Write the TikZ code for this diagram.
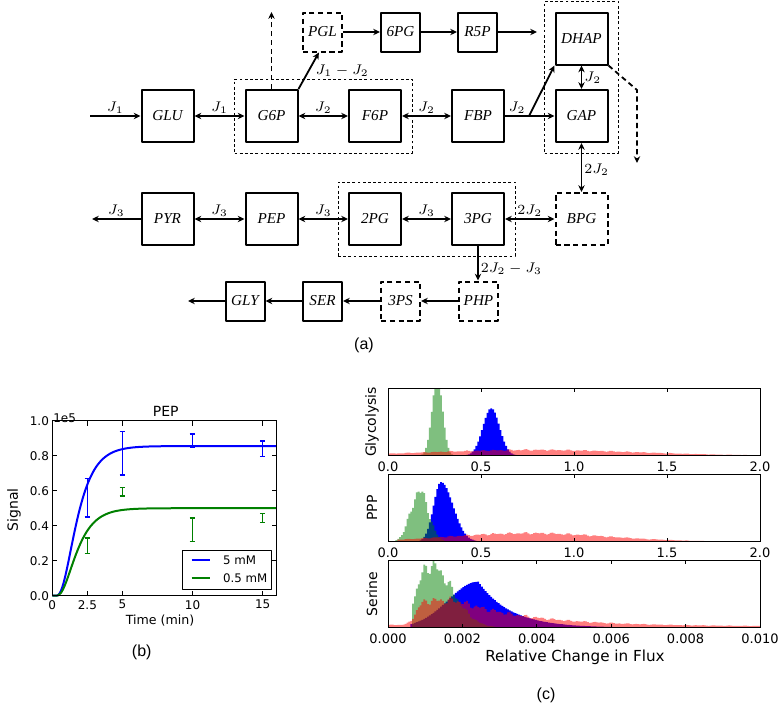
\documentclass[tikz,border=0pt]{standalone}
\usepackage{fontspec}
\newfontfamily\plotfont{DejaVu Sans}
\newfontfamily\tagfont{Liberation Sans}
\newfontfamily\boxfont{Liberation Serif}
\usetikzlibrary{arrows.meta,fit}
\begin{document}
\begin{tikzpicture}[x=0.5pt,y=-0.5pt,line join=round,
    declare function={gs(\t,\m,\s)=exp(-0.5*((\t-\m)/\s)*((\t-\m)/\s));
                      rise(\t)=(1-exp(-1.05*(\t-0.25)))^3;
                      jit(\t,\f)=1+0.08*sin(\t*\f)+0.07*sin(\t*\f*0.577);},
    met/.style={draw,line width=1pt,minimum size=26pt,inner sep=0pt,font=\boxfont\itshape\fontsize{7.6}{9}\selectfont},
    metsm/.style={met,minimum size=19.5pt},
    dbox/.style={dash pattern=on 2.6pt off 1.8pt},
    grp/.style={draw,line width=0.45pt,dash pattern=on 1.4pt off 1.2pt,inner sep=5pt},
    flow/.style={line width=0.9pt,-{Stealth[length=3.4pt,width=3.2pt]}},
    rev/.style={line width=0.9pt,{Stealth[length=3.4pt,width=3.2pt]}-{Stealth[length=3.4pt,width=3.2pt]}},
    lbl/.style={font=\fontsize{7.3}{9}\selectfont,inner sep=1pt},
    frm/.style={line width=0.5pt},
    ticklbl/.style={font=\plotfont\fontsize{6}{7}\selectfont,inner sep=1pt},
    hticklbl/.style={font=\plotfont\fontsize{6.5}{7}\selectfont,inner sep=1pt},
    hist/.style={const plot},
    tag/.style={font=\tagfont\fontsize{8}{9}\selectfont}]
    \useasboundingbox (0,0) rectangle (783,707);

    \foreach \n/\px/\py in {GLU/167.5/116,G6P/271.5/116,F6P/375/116,FBP/478/116,GAP/581.5/116,
                             DHAP/581.5/38.5,PYR/167.5/219,PEP/271.5/219,2PG/375/219,3PG/478/219} {
        \node[met] (\n) at (\px,\py) {\n};
    }
    \node[met,dbox] (BPG) at (581.5,219) {BPG};
    \foreach \n/\px/\py in {6PG/400.5/32,R5P/477.5/32,GLY/245/301,SER/322.5/301} {
        \node[metsm] (\n) at (\px,\py) {\n};
    }
    \foreach \n/\px/\py in {PGL/322.5/32,3PS/400.5/301,PHP/478.5/301} {
        \node[metsm,dbox] (\n) at (\px,\py) {\n};
    }

    \node[grp,fit=(G6P)(F6P)] (upper) {};
    \node[grp,fit=(DHAP)(GAP)] (triose) {};
    \node[grp,fit=(2PG)(3PG)] (lower) {};

    \coordinate (glcin) at (90,116);
    \coordinate (pyrout) at (92,219);
    \coordinate (glyout) at (188,301);
    \coordinate (r5pout) at (537,32);
    \coordinate (split) at (529,116);
    \coordinate (ppout) at (271.5,12);
    \coordinate (bend) at (637,90);
    \coordinate (dhapout) at (637,163);

    \draw[flow] (glcin) -- node[lbl,above] {$J_1$} (GLU);
    \draw[rev] (GLU) -- node[lbl,above] {$J_1$} (G6P);
    \draw[rev] (G6P) -- node[lbl,above] {$J_2$} (F6P);
    \draw[rev] (F6P) -- node[lbl,above] {$J_2$} (FBP);
    \draw[flow] (FBP) -- node[lbl,above] {$J_2$} (split) -- (GAP);
    \draw[flow] (split) -- (DHAP.south west);
    \draw[rev] (DHAP) -- node[lbl,right] {$J_2$} (GAP);
    \draw[flow,dbox] (DHAP.south east) -- (bend) -- (dhapout);
    \draw[flow,dbox] (G6P.north) -- (ppout);
    \draw[flow] (G6P.north east) -- node[lbl,right,xshift=2pt] {$J_1-J_2$} (PGL.-100);
    \draw[flow] (PGL) -- (6PG);
    \draw[flow] (6PG) -- (R5P);
    \draw[flow] (R5P) -- (r5pout);
    \draw[rev] (GAP) -- node[lbl,right,pos=0.55] {$2J_2$} (BPG);
    \draw[rev] (3PG) -- node[lbl,above] {$2J_2$} (BPG);
    \draw[rev] (2PG) -- node[lbl,above] {$J_3$} (3PG);
    \draw[rev] (PEP) -- node[lbl,above] {$J_3$} (2PG);
    \draw[rev] (PYR) -- node[lbl,above] {$J_3$} (PEP);
    \draw[flow] (PYR) -- node[lbl,above] {$J_3$} (pyrout);
    \draw[flow] (3PG.south) -- node[lbl,right,pos=0.65] {$2J_2-J_3$} (3PG.south |- PHP.north);
    \draw[flow] (PHP) -- (3PS);
    \draw[flow] (3PS) -- (SER);
    \draw[flow] (SER) -- (GLY);
    \draw[flow] (GLY) -- (glyout);
    \node[tag] (taga) at (364,345) {(a)};

    \begin{scope}[shift={(52.3,595.7)},x=7.0125pt,y=87.5pt]
        \draw[line width=1pt,blue] (0,0) -- plot[domain=0.25:16,samples=90,smooth] (\x,{0.855*rise(\x)});
        \draw[line width=1pt,green!50!black] (0,0) -- plot[domain=0.25:16,samples=90,smooth] (\x,{0.5*rise(\x)});
        \foreach \t/\lo/\hi in {2.5/0.45/0.67,5/0.69/0.94,10/0.85/0.925,15/0.795/0.885} {
            \draw[line width=0.7pt,blue] (\t,\lo) -- (\t,\hi) (\t-0.2,\lo) -- (\t+0.2,\lo) (\t-0.2,\hi) -- (\t+0.2,\hi);
        }
        \foreach \t/\lo/\hi in {2.5/0.24/0.33,5/0.57/0.62,10/0.31/0.445,15/0.42/0.47} {
            \draw[line width=0.7pt,green!50!black] (\t,\lo) -- (\t,\hi) (\t-0.2,\lo) -- (\t+0.2,\lo) (\t-0.2,\hi) -- (\t+0.2,\hi);
        }
        \draw[frm] (0,0) rectangle (16,1);
        \foreach \t in {0,2.5,5,10,15} {
            \draw[frm] (\t,0) -- ++(0,2.5pt) (\t,1) -- ++(0,-2.5pt);
            \node[ticklbl,anchor=north,yshift=-1pt] at (\t,0) {\t};
        }
        \foreach \v in {0.0,0.2,0.4,0.6,0.8,1.0} {
            \draw[frm] (0,\v) -- ++(2.5pt,0) (16,\v) -- ++(-2.5pt,0);
            \node[ticklbl,anchor=east,xshift=-0.5pt] at (0,\v) {\v};
        }
        \node[ticklbl,anchor=west,inner sep=0.3pt,yshift=1.2pt] (offset) at (0,1) {1e5};
        \draw[frm,fill=white] (9.3,0.038) rectangle (15.64,0.261);
        \draw[line width=1pt,blue] (9.94,0.204) -- (11.25,0.204);
        \draw[line width=1pt,green!50!black] (9.94,0.099) -- (11.25,0.099);
        \node[font=\plotfont\fontsize{5.9}{7}\selectfont,anchor=west,inner sep=0pt] (leg1) at (12.15,0.204) {5 mM};
        \node[font=\plotfont\fontsize{5.9}{7}\selectfont,anchor=west,inner sep=0pt] (leg2) at (12.15,0.099) {0.5 mM};
    \end{scope}
    \node[font=\plotfont\fontsize{7}{8}\selectfont] (peptitle) at (165.7,411.7) {PEP};
    \node[font=\plotfont\fontsize{6.3}{7}\selectfont] (tlab) at (160,620.7) {Time (min)};
    \node[font=\plotfont\fontsize{7}{8}\selectfont,rotate=90] (siglab) at (14,510) {Signal};
    \node[tag] (tagb) at (141.7,652.7) {(b)};

    \begin{scope}[shift={(388,455.7)},x=93pt,y=33.85pt]
        \begin{scope}
            \clip (0,0) rectangle (2,1);
            \fill[blue] (0.4,0) -- plot[hist,domain=0.4:0.72,samples=33] (\x,{0.7*gs(\x,0.55,0.045)}) -- (0.72,0) -- cycle;
            \fill[green!50!black,fill opacity=0.5] (0.17,0) -- plot[hist,domain=0.17:0.36,samples=20] (\x,{1.15*gs(\x,0.26,0.028)}) -- (0.36,0) -- cycle;
            \fill[red,fill opacity=0.5] (0,0) -- plot[hist,domain=0:2,samples=201] (\x,{0.085*gs(\x,0.78,0.55)*jit(\x,7919)}) -- (2,0) -- cycle;
        \end{scope}
        \draw[frm] (0,0) rectangle (2,1);
        \foreach \t in {0.0,0.5,1.0,1.5,2.0} {
            \draw[frm] (\t,0) -- ++(0,2pt) (\t,1) -- ++(0,-2pt);
            \node[hticklbl,anchor=north,yshift=-2pt] at (\t,0) {\t};
        }
    \end{scope}
    \begin{scope}[shift={(388,541.7)},x=93pt,y=33.85pt]
        \begin{scope}
            \clip (0,0) rectangle (2,1);
            \fill[blue] (0.12,0) -- plot[hist,domain=0.12:0.52,samples=41] (\x,{0.88*gs(\x,0.28,0.04+0.025*(\x>0.28))}) -- (0.52,0) -- cycle;
            \fill[green!50!black,fill opacity=0.5] (0.04,0) -- plot[hist,domain=0.04:0.34,samples=31] (\x,{0.74*gs(\x,0.165,0.048)*jit(\x,7919)}) -- (0.34,0) -- cycle;
            \fill[red,fill opacity=0.5] (0.05,0) -- plot[hist,domain=0.05:2,samples=196] (\x,{0.125*gs(\x,0.75,0.42)*jit(\x,7919)}) -- (2,0) -- cycle;
        \end{scope}
        \draw[frm] (0,0) rectangle (2,1);
        \foreach \t in {0.0,0.5,1.0,1.5,2.0} {
            \draw[frm] (\t,0) -- ++(0,2pt) (\t,1) -- ++(0,-2pt);
            \node[hticklbl,anchor=north,yshift=-2pt] at (\t,0) {\t};
        }
    \end{scope}
    \begin{scope}[shift={(388,627.7)},x=18.6pt,y=33.85pt]
        \begin{scope}
            \clip (0,0) rectangle (10,1);
            \fill[blue] (0.6,0) -- plot[hist,domain=0.6:6.2,samples=113] (\x,{0.68*((\x<2.4)*gs(\x,2.4,0.8)+(1-(\x<2.4))*exp(-1.15*(\x-2.4)))}) -- (6.2,0) -- cycle;
            \fill[green!50!black,fill opacity=0.5] (0.65,0) -- plot[hist,domain=0.65:3.2,samples=52] (\x,{0.92*gs(\x,1.1,0.35+0.25*(\x>1.1))*jit(\x,1583)}) -- (3.2,0) -- cycle;
            \fill[red,fill opacity=0.5] (0,0) -- plot[hist,domain=0:10,samples=201] (\x,{(0.1+0.9/(1+exp(-12*(\x-0.72))))*(0.38*exp(-0.5*max(\x-1.8,0))+0.02)*jit(\x,1583)}) -- (10,0) -- cycle;
        \end{scope}
        \draw[frm] (0,0) rectangle (10,1);
        \foreach \t/\lab in {0/0.000,2/0.002,4/0.004,6/0.006,8/0.008,10/0.010} {
            \draw[frm] (\t,0) -- ++(0,2pt) (\t,1) -- ++(0,-2pt);
            \node[hticklbl,anchor=north,yshift=-2pt] at (\t,0) {\lab};
        }
    \end{scope}
    \node[font=\plotfont\fontsize{7}{8}\selectfont,rotate=90] (glylab) at (372,422) {Glycolysis};
    \node[font=\plotfont\fontsize{7}{8}\selectfont,rotate=90] (ppplab) at (372,508) {PPP};
    \node[font=\plotfont\fontsize{7}{8}\selectfont,rotate=90] (serlab) at (372,594) {Serine};
    \node[font=\plotfont\fontsize{7.6}{9}\selectfont] (fluxlab) at (575,657) {Relative Change in Flux};
    \node[tag] (tagc) at (546,695) {(c)};
\end{tikzpicture}
\end{document}
